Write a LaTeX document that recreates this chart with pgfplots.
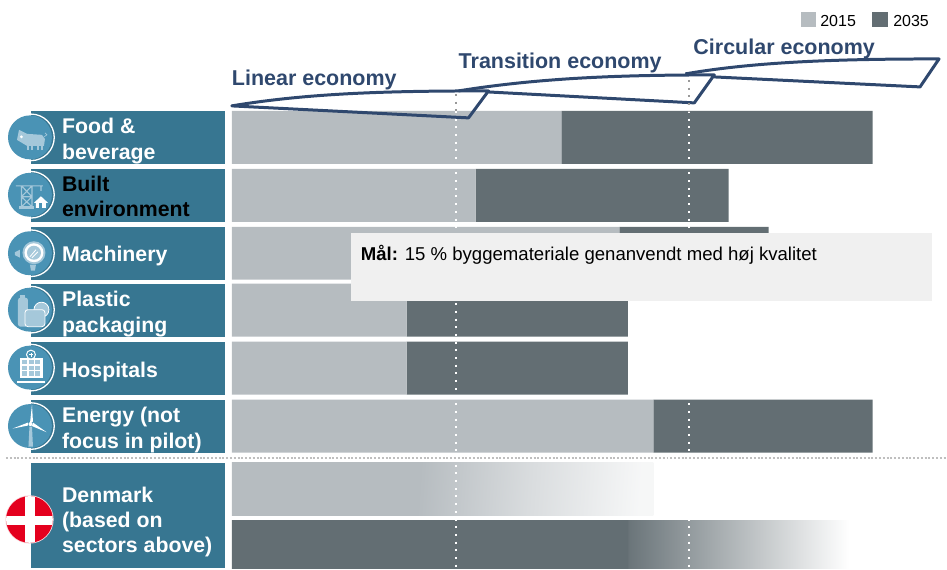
\documentclass[border=0pt]{standalone}
\usepackage{pgfplots}
\pgfplotsset{compat=1.18}
\usepackage{fontspec}
\setmainfont{Liberation Sans}
\definecolor{teal}{RGB}{55,118,145}
\definecolor{circ}{RGB}{74,147,181}
\definecolor{ico}{RGB}{165,200,218}
\definecolor{lite}{RGB}{182,188,192}
\definecolor{dark}{RGB}{99,110,115}
\definecolor{navy}{RGB}{47,72,110}
\definecolor{dan}{RGB}{228,0,30}
\pgfdeclarehorizontalshading{fadeA}{100bp}{color(0bp)=(lite);color(47bp)=(lite);color(61bp)=(lite!52!white);color(75bp)=(lite!12!white);color(100bp)=(lite!12!white)}
\pgfdeclarehorizontalshading{fadeB}{100bp}{color(0bp)=(dark);color(25bp)=(dark);color(57bp)=(dark);color(57.2bp)=(dark!95!white);color(75bp)=(white);color(100bp)=(white)}
\newcommand{\rowlabel}[3][white]{\node[anchor=west,text=#1,font=\fontsize{21.3}{26}\selectfont\bfseries,align=left,inner sep=0pt] at (62,#2) {#3};}
\begin{document}
\begin{tikzpicture}
\path (0,0) rectangle (947pt,-569pt);
\begin{axis}[at={(0,0)},anchor=north west,x=1pt,y=1pt,scale only axis,hide axis,
  xmin=-232,xmax=715,ymin=0,ymax=569,y dir=reverse,clip=true,
  xbar stacked,bar width=53pt,bar shift=0pt]
\addplot[fill=lite,draw=none] coordinates {(330,137.5) (244,195.5) (388,253.5) (175,310.5) (175,368.5) (422,426.5)};
\addplot[fill=dark,draw=none] coordinates {(311.5,137.5) (253.5,195.5) (149.5,253.5) (221.5,310.5) (221.5,368.5) (219.5,426.5)};
\end{axis}
\begin{axis}[at={(0,0)},anchor=north west,x=1pt,y=1pt,scale only axis,hide axis,
  xmin=-232,xmax=715,ymin=0,ymax=569,y dir=reverse,clip=true,
  xbar,bar shift=0pt]
\addplot[shading=fadeA,shading angle=-4,draw=none,bar width=53pt] coordinates {(422,489.5)};
\addplot[shading=fadeB,draw=none,bar width=48pt] coordinates {(618,545.5)};
\end{axis}
\begin{scope}[x=1pt,y=-1pt]
% header row boxes
\foreach \a/\b in {111/164,169/222,227/280,284/337,342/395,400/453,463/569}
  \fill[teal] (31,\a) rectangle (225,\b);
% dotted lines
\draw[white,line width=2pt,dash pattern=on 2pt off 5.7pt] (456.5,111) -- (456.5,569);
\draw[white,line width=2pt,dash pattern=on 2pt off 5.7pt] (689.5,111) -- (689.5,569);
% polygons
\draw[navy,line width=3pt,line join=round] (459,91) .. controls (540,78) and (620,75) .. (715,75) -- (695,103) -- (488,92);
\draw[navy,line width=3pt,line join=round] (686,74) .. controls (760,61) and (850,59) .. (940,59) -- (921,87) -- (715,77);
\draw[navy,line width=3pt,line join=round] (232,106) .. controls (310,93) and (390,91) .. (489,91) -- (469,118) -- cycle;
\draw[gray!80,line width=2pt,dash pattern=on 2pt off 5.7pt] (456.5,94) -- (456.5,111);
\draw[gray!80,line width=2pt,dash pattern=on 2pt off 5.7pt] (689.5,80) -- (689.5,111);
\draw[gray!50,line width=2pt,dash pattern=on 2pt off 1.8pt] (6,458.5) -- (947,458.5);
% economy labels
\node[anchor=west,text=navy,font=\fontsize{21.5}{24}\selectfont\bfseries,inner sep=0pt] at (232,80) {Linear economy};
\node[anchor=west,text=navy,font=\fontsize{21.5}{24}\selectfont\bfseries,inner sep=0pt] at (459,63) {Transition economy};
\node[anchor=west,text=navy,font=\fontsize{21.5}{24}\selectfont\bfseries,inner sep=0pt] at (694,49) {Circular economy};
% legend
\fill[lite] (802,12) rectangle (817,27);
\fill[dark] (873,12) rectangle (889,27);
\node[anchor=west,font=\fontsize{16}{18}\selectfont,inner sep=0pt] at (821,21) {2015};
\node[anchor=west,font=\fontsize{16}{18}\selectfont,inner sep=0pt] at (894,21) {2035};
% row labels
\rowlabel{141}{Food \&\\beverage}
\rowlabel[black]{196.5}{Built\\[-1pt]environment}
\rowlabel{256}{Machinery}
\rowlabel{314}{Plastic\\packaging}
\rowlabel{372}{Hospitals}
\rowlabel{430}{Energy (not\\focus in pilot)}
\rowlabel{522.5}{Denmark\\[-1pt](based on\\[-1pt]sectors above)}
% overlay
\fill[black!6] (351,233) rectangle (933,301);
\node[anchor=base west,font=\fontsize{18.6}{19}\selectfont,inner sep=0pt] at (361,261) {\textbf{Mål:} 15 \% byggemateriale genanvendt med høj kvalitet};
% circles
\foreach \y in {137.5,195,253.5,310,368,426.5}{
  \draw[white,line width=1.3pt] (31,\y) circle (23.3);
  \fill[circ] (30,\y) circle (22);}
% pig
\fill[ico] (19,130) -- (27,134) -- (42,135) -- (45,139) -- (44,146) -- (27,146) -- (22,143) -- (17,140) -- cycle;
\foreach \x in {28,32,38,42}\fill[ico] (\x-0.7,145) rectangle (\x+0.7,150);
\fill[white] (21.5,137) circle (1.6);
\draw[ico,line width=0.6pt] (44,137) -- (47,135) -- (45,133);
% crane and house
\draw[ico,line width=1.1pt] (21.5,207) -- (21.5,186) -- (32,186) -- (32,207) (21.5,207) -- (32,197) -- (21.5,186) (32,207) -- (21.5,197) -- (32,186) (21.5,197) -- (32,197) (16,186) -- (43,186) (41,186) -- (41,191);
\fill[ico] (19,206.5) rectangle (34,209);
\fill[white] (34,203) -- (41,196.5) -- (48,203) -- (46,203) -- (46,208) -- (36,208) -- (36,203) -- cycle;
\fill[circ] (39.5,203.5) rectangle (42.5,208);
% gauge
\fill[ico] (34,253) circle (11.5);
\fill[white] (34,253) circle (9.5);
\fill[ico] (34,253) circle (7);
\draw[white,line width=0.8pt] (30,257) -- (36,250) (32,258) -- (38,252);
\fill[ico] (15,252.5) -- (20,250) -- (20,258) -- (15,255.5) -- cycle;
\fill[ico] (30,265) -- (36,265) -- (35,271) -- (31,271) -- cycle;
% bottles
\fill[ico,rounded corners=2.5pt] (18,298) rectangle (28,327);
\fill[ico] (20.5,295) rectangle (25.5,299);
\draw[white,line width=0.8pt,fill=ico] (41.5,310) circle (7.5);
\draw[white,line width=0.8pt,fill=ico,rounded corners=3pt] (25,310) rectangle (45,327);
% hospital
\fill[white] (20,358) rectangle (43,378);
\fill[white] (31,355) circle (5);
\fill[circ] (31,355) circle (3.8);
\draw[white,line width=0.7pt] (31,353) -- (31,357) (29,355) -- (33,355);
\foreach \i in {0,1,2}\foreach \j in {0,1,2}
  \fill[ico] (22+6.7*\i,360+5.9*\j) rectangle (27+6.7*\i,364.4+5.9*\j);
\fill[white] (17,381) rectangle (45,383);
% wind turbine
\fill[ico] (29.5,427) -- (32,427) -- (33,447) -- (28.5,447) -- cycle;
\fill[white] (30,424) -- (32,405) -- (33,422) -- cycle;
\fill[white] (28,423) -- (12.7,429) -- (28,426) -- cycle;
\fill[white] (33,423) -- (46.7,432.7) -- (32,426.5) -- cycle;
\fill[white] (30.5,424.5) circle (2);
% Danish flag
\fill[dan!15] (29.5,520) circle (24.2);
\begin{scope}
\clip (29.5,520) circle (23.4);
\fill[dan] (5,495) rectangle (54,545);
\fill[white] (25,495) rectangle (35,545);
\fill[white] (5,517) rectangle (54,526);
\end{scope}
\end{scope}
\end{tikzpicture}
\end{document}
